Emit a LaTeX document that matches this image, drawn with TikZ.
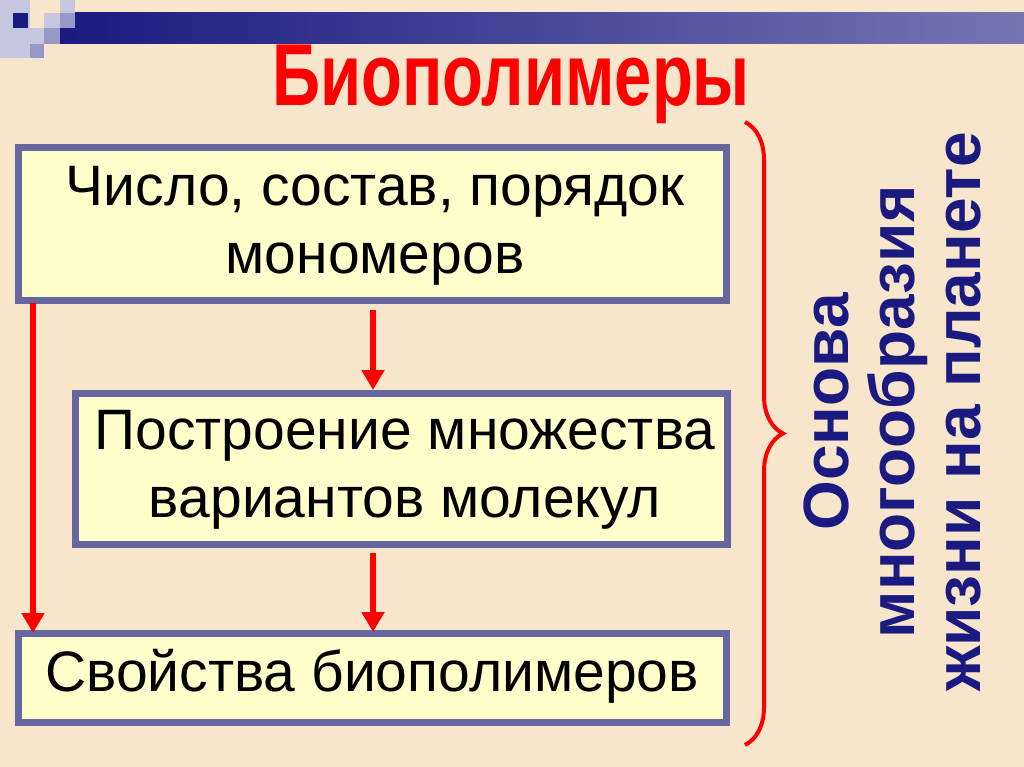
\documentclass[tikz,border=0pt]{standalone}
\usepackage{fontspec}
\setmainfont{Liberation Sans}
\usetikzlibrary{arrows.meta,decorations.pathreplacing}
\definecolor{bg}{HTML}{F7E6CC}
\definecolor{boxfill}{HTML}{FFFFCC}
\definecolor{boxline}{HTML}{6666A0}
\definecolor{navy}{HTML}{1A1A80}
\tikzset{
  box/.style={draw=boxline,line width=7pt,fill=boxfill},
  body/.style={font=\fontsize{57}{68}\selectfont,align=center,text=black},
  redarrow/.style={draw=red,line width=6pt,-{Triangle[length=20pt,width=22pt]}},
}
\begin{document}
\begin{tikzpicture}[x=1pt,y=-1pt]
\useasboundingbox (0,0) rectangle (1024,767);
\fill[bg] (0,0) rectangle (1024,767);
% top decoration
\shade[left color=navy,right color=navy!60!white] (60,13) rectangle (1024,44);
\fill[navy!25] (0,0) rectangle (30,58);
\fill[navy] (13,13) rectangle (28,28);
\fill[navy!25] (30,28) rectangle (44,44);
\fill[navy!45] (30,44) rectangle (44,58);
\fill[navy!25] (44,13) rectangle (60,28);
\fill[navy!45] (44,28) rectangle (60,44);
\fill[navy!25] (60,0) rectangle (75,13);
\fill[navy!45] (60,13) rectangle (75,28);
% title
\node (title) at (511,84) {\textcolor{red}{\bfseries\fontsize{88}{90}\selectfont\scalebox{0.76}[1]{Биополимеры}}};
% boxes
\draw[box] (18,148) rectangle (726,300);
\node[body] (b1) at (375,226) {Число, состав, порядок\\мономеров};
\draw[box] (75,393) rectangle (727,544);
\node[body] (b2) at (405,470) {Построение множества\\вариантов молекул};
\draw[box] (18,633) rectangle (726,722);
\node[body] (b3) at (372,676) {Свойства биополимеров};
\coordinate (a1s) at (33,303); \coordinate (a1e) at (33,633);
\coordinate (a2s) at (373,310); \coordinate (a2e) at (373,390);
\coordinate (a3s) at (373,553); \coordinate (a3e) at (373,632);
\draw[redarrow] (a1s) -- (a1e);
\draw[redarrow] (a2s) -- (a2e);
\draw[redarrow] (a3s) -- (a3e);
% brace
\coordinate (br1) at (745,122); \coordinate (br2) at (745,745);
\draw[red,line width=4pt,decorate,decoration={brace,amplitude=38pt}] (br1) -- (br2);
% vertical text
\node[rotate=90,text=navy,font=\bfseries\fontsize{64}{66}\selectfont,align=center] (vt) at (892,412) {Основа\\многообразия\\жизни на планете};
\end{tikzpicture}
\end{document}
